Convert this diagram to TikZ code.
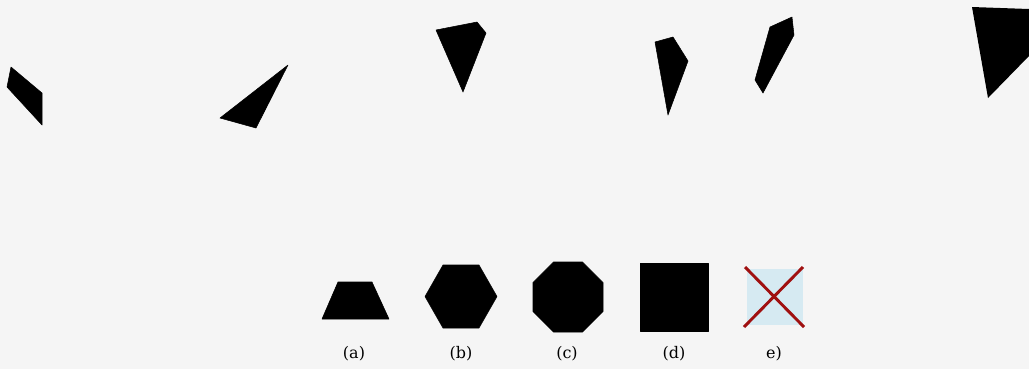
\documentclass[tikz,border=0pt]{standalone}
\usepackage{fontspec}
\setmainfont{DejaVu Serif}
\definecolor{bgGray}{RGB}{245,245,245}
\definecolor{crossRed}{RGB}{160,16,16}
\definecolor{boxBlue}{RGB}{214,234,242}
\tikzset{every picture/.style={line width=0.75pt}}
\tikzset{piece/.style={fill=black,draw=black,line width=0.4pt,line join=round},
  caption/.style={anchor=center,inner sep=0.75pt,font=\fontsize{12}{14}\selectfont}}

\begin{document}
\begin{tikzpicture}[x=0.75pt,y=0.75pt,yscale=-1,xscale=1]
	% background, sets the diagram size to 1029 x 369
	\fill [bgGray] (0,0) rectangle (1029,369) ;
	\useasboundingbox (0,0) rectangle (1029,369) ;
	
	%Shape: Polygon 
	\draw [piece] (11,67) -- (7,87) -- (42,125) -- (42,93) -- cycle ;
	%Shape: Polygon 
	\draw [piece] (288,65) -- (220,118) -- (256,128) -- cycle ;
	%Shape: Polygon 
	\draw [piece] (436,30) -- (477,22) -- (486,33) -- (463,92) -- cycle ;
	%Shape: Polygon 
	\draw [piece] (655,42) -- (673,37) -- (688,61) -- (668,115) -- cycle ;
	%Shape: Polygon 
	\draw [piece] (770,27) -- (792,17) -- (794,35) -- (763,93) -- (755,80) -- cycle ;
	%Shape: Polygon (cut at the right edge)
	\fill [black] (972,7) -- (1029,9) -- (1029,56) -- (988,98) -- cycle ;
	
	%Shape: Trapezoid 
	\draw [piece] (322,319) -- (389,319) -- (372,282) -- (338,282) -- cycle ;
	%Shape: Regular Polygon 
	\draw [piece] (425,296.5) -- (443,265) -- (479,265) -- (497,296.5) -- (479,328) -- (443,328) -- cycle ;
	%Shape: Regular Polygon 
	\draw [piece] (603,282.5) -- (582.5,262) -- (553.5,262) -- (533,282.5) -- (533,311.5) -- (553.5,332) -- (582.5,332) -- (603,311.5) -- cycle ;
	%Shape: Square 
	\draw [piece] (640,263) rectangle (708,331) ;
	%Shape: Rectangle 
	\fill [boxBlue] (747,269) rectangle (803,325) ;
	%Straight Lines 
	\draw [crossRed, line width=2.2pt] (745,267) -- (804,327) ;
	%Straight Lines 
	\draw [crossRed, line width=2.2pt] (803,267) -- (744,327) ;
	
	% Text Node
	\node [caption] (lblA) at (354,354) {(a)};
	% Text Node
	\node [caption] (lblB) at (461,354) {(b)};
	% Text Node
	\node [caption] (lblC) at (567,354) {(c)};
	% Text Node
	\node [caption] (lblD) at (674,354) {(d)};
	% Text Node
	\node [caption] (lblE) at (774,354) {e)};
	
\end{tikzpicture}
\end{document}
